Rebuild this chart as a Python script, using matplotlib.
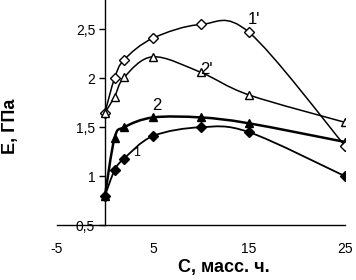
import numpy as np
from matplotlib import pyplot as plt
from matplotlib.path import Path
from matplotlib.patches import PathPatch
from matplotlib.ticker import FuncFormatter

plt.rcParams['font.family'] = ['Liberation Sans', 'DejaVu Sans']
plt.rcParams['axes.unicode_minus'] = False

# concentration, mass parts
c = [0, 1, 2, 5, 10, 15, 25]

# modulus E, GPa
e1 = [0.80, 1.06, 1.18, 1.41, 1.50, 1.45, 1.00]        # 1  filled diamond
e2 = [0.80, 1.39, 1.50, 1.60, 1.60, 1.54, 1.35]        # 2  filled triangle
e1p = [1.65, 2.00, 2.19, 2.41, 2.55, 2.47, 1.31]       # 1' open diamond
e2p = [1.65, 1.81, 2.01, 2.22, 2.06, 1.83, 1.55]       # 2' open triangle

labels = ["1", "2", "1'", "2'"]
label_pos = [(3.3, 1.24), (5.4, 1.72), (15.5, 2.60), (10.6, 2.09)]
label_size = [9, 12, 12, 12]


# smoothed line through the points, like the spreadsheet "smoothed line" option
def smooth_path(x, y):
    p = np.column_stack([x, y])
    verts = [p[0]]
    codes = [Path.MOVETO]
    n = len(p)
    for i in range(n - 1):
        p0 = p[i - 1] if i > 0 else p[i]
        p3 = p[i + 2] if i + 2 < n else p[i + 1]
        c1 = p[i] + (p[i + 1] - p0) / 6
        c2 = p[i + 1] - (p3 - p[i]) / 6
        verts += [c1, c2, p[i + 1]]
        codes += [Path.CURVE4] * 3
    return Path(verts, codes)


fig = plt.figure(figsize=(3.56, 2.80), dpi=100)
ax = fig.add_axes([0.160, 0.196, 0.809, 0.804])

series = [
    (e1, "D", "black", 5, 1.3),
    (e2, "^", "black", 6, 1.8),
    (e1p, "D", "white", 5, 1.1),
    (e2p, "^", "white", 6, 1.1),
]
for y, m, fc, ms, lw in series:
    ax.add_patch(PathPatch(smooth_path(c, y), fill=False, ec="black", lw=lw, zorder=2))
    ax.plot(c, y, ls="none", marker=m, ms=ms, mfc=fc, mec="black", mew=1.0, zorder=3)

for t, (x, y), s in zip(labels, label_pos, label_size):
    ax.text(x, y, t, fontsize=s, ha="center", va="center", zorder=4)

ax.set_xlim(-5, 25)
ax.set_ylim(0.5, 2.8)
ax.set_xticks([-5, 5, 15, 25])
ax.set_yticks([0.5, 1, 1.5, 2, 2.5])
fmt = FuncFormatter(lambda v, pos: ("%g" % v).replace(".", ","))
ax.yaxis.set_major_formatter(fmt)

ax.spines["left"].set_position(("data", 0))
ax.spines["right"].set_visible(False)
ax.spines["top"].set_visible(False)
for s in ["left", "bottom"]:
    ax.spines[s].set_linewidth(1.0)
ax.tick_params(axis="y", direction="out", length=4, width=1, labelsize=10, pad=3)
ax.tick_params(axis="x", length=0, labelsize=10, pad=12)
for lab in ax.get_yticklabels():
    lab.set_clip_on(False)

fig.text(0.03, 0.55, "Е, ГПа", rotation=90, fontsize=13, fontweight="bold",
         ha="center", va="center")
fig.text(0.63, 0.045, "С, масс. ч.", fontsize=13, fontweight="bold",
         ha="center", va="center")

fig.savefig("out.png", dpi=100, facecolor="white")
